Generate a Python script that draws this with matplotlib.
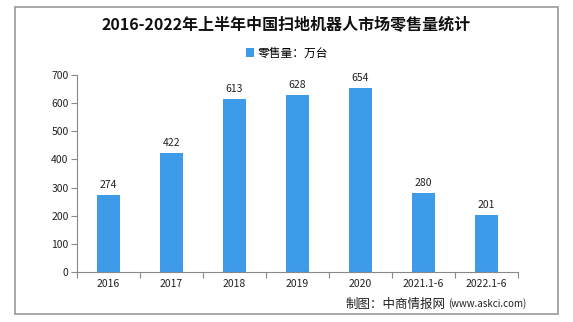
import matplotlib
matplotlib.use('Agg')
import matplotlib.pyplot as plt
from matplotlib.patches import Rectangle

plt.rcParams['font.family'] = ['Noto Sans CJK SC', 'DejaVu Sans']

categories = ['2016', '2017', '2018', '2019', '2020', '2021.1-6', '2022.1-6']
sales = [274, 422, 613, 628, 654, 280, 201]
yticks = [0, 100, 200, 300, 400, 500, 600, 700]

title = '2016-2022年上半年中国扫地机器人市场零售量统计'
legend_label = '零售量：万台'
source_cn = '制图：中商情报网'
source_url = '(www.askci.com)'

bar_color = '#3d9be9'
W, H = 573, 322

fig = plt.figure(figsize=(W / 100, H / 100), dpi=100)
ax = fig.add_axes([77 / W, 1 - 272 / H, (518 - 77) / W, (272 - 75) / H])

x = list(range(len(categories)))
bars = ax.bar(x, sales, width=0.38, color=bar_color, label=legend_label, zorder=2)
for xi, v in zip(x, sales):
    ax.text(xi, v + 18, str(v), ha='center', va='bottom', fontsize=7.5, color='#222')

ax.set_xlim(-0.5, len(categories) - 0.5)
ax.set_ylim(0, 700)
ax.set_yticks(yticks)
ax.set_yticklabels([str(t) for t in yticks], fontsize=7.5, color='#222')

# category labels sit between the boundary ticks
ax.set_xticks([i - 0.5 for i in range(len(categories) + 1)])
ax.set_xticklabels([])
ax.set_xticks(x, minor=True)
ax.set_xticklabels(categories, minor=True, fontsize=7.5, color='#222')
ax.tick_params(axis='x', which='minor', length=0, pad=5)
ax.tick_params(axis='x', which='major', length=4, color='#888', direction='out')
ax.tick_params(axis='y', length=4, color='#888', direction='out', pad=2)

for s in ['top', 'right']:
    ax.spines[s].set_visible(False)
for s in ['left', 'bottom']:
    ax.spines[s].set_color('#888')
    ax.spines[s].set_linewidth(0.8)

fig.text(0.5, 1 - 24 / H, title, ha='center', va='center', fontsize=11.5,
         fontweight='bold', color='#111')
fig.legend(handles=[bars], labels=[legend_label], loc='center',
           bbox_to_anchor=(287 / W, 1 - 53 / H), frameon=False, fontsize=8.5,
           handlelength=0.7, handleheight=0.7, handletextpad=0.3)
fig.text(446 / W, 1 - 304 / H, source_cn, ha='right', va='center', fontsize=9, color='#222')
fig.text(448 / W, 1 - 304 / H, source_url, ha='left', va='center', fontsize=7, color='#222')

fig.patches.append(Rectangle((15 / W, 1 - 314 / H), (558 - 15) / W, (314 - 7) / H,
                             transform=fig.transFigure, fill=False,
                             edgecolor='#999', linewidth=1.2))

fig.savefig('out.png', dpi=100)
